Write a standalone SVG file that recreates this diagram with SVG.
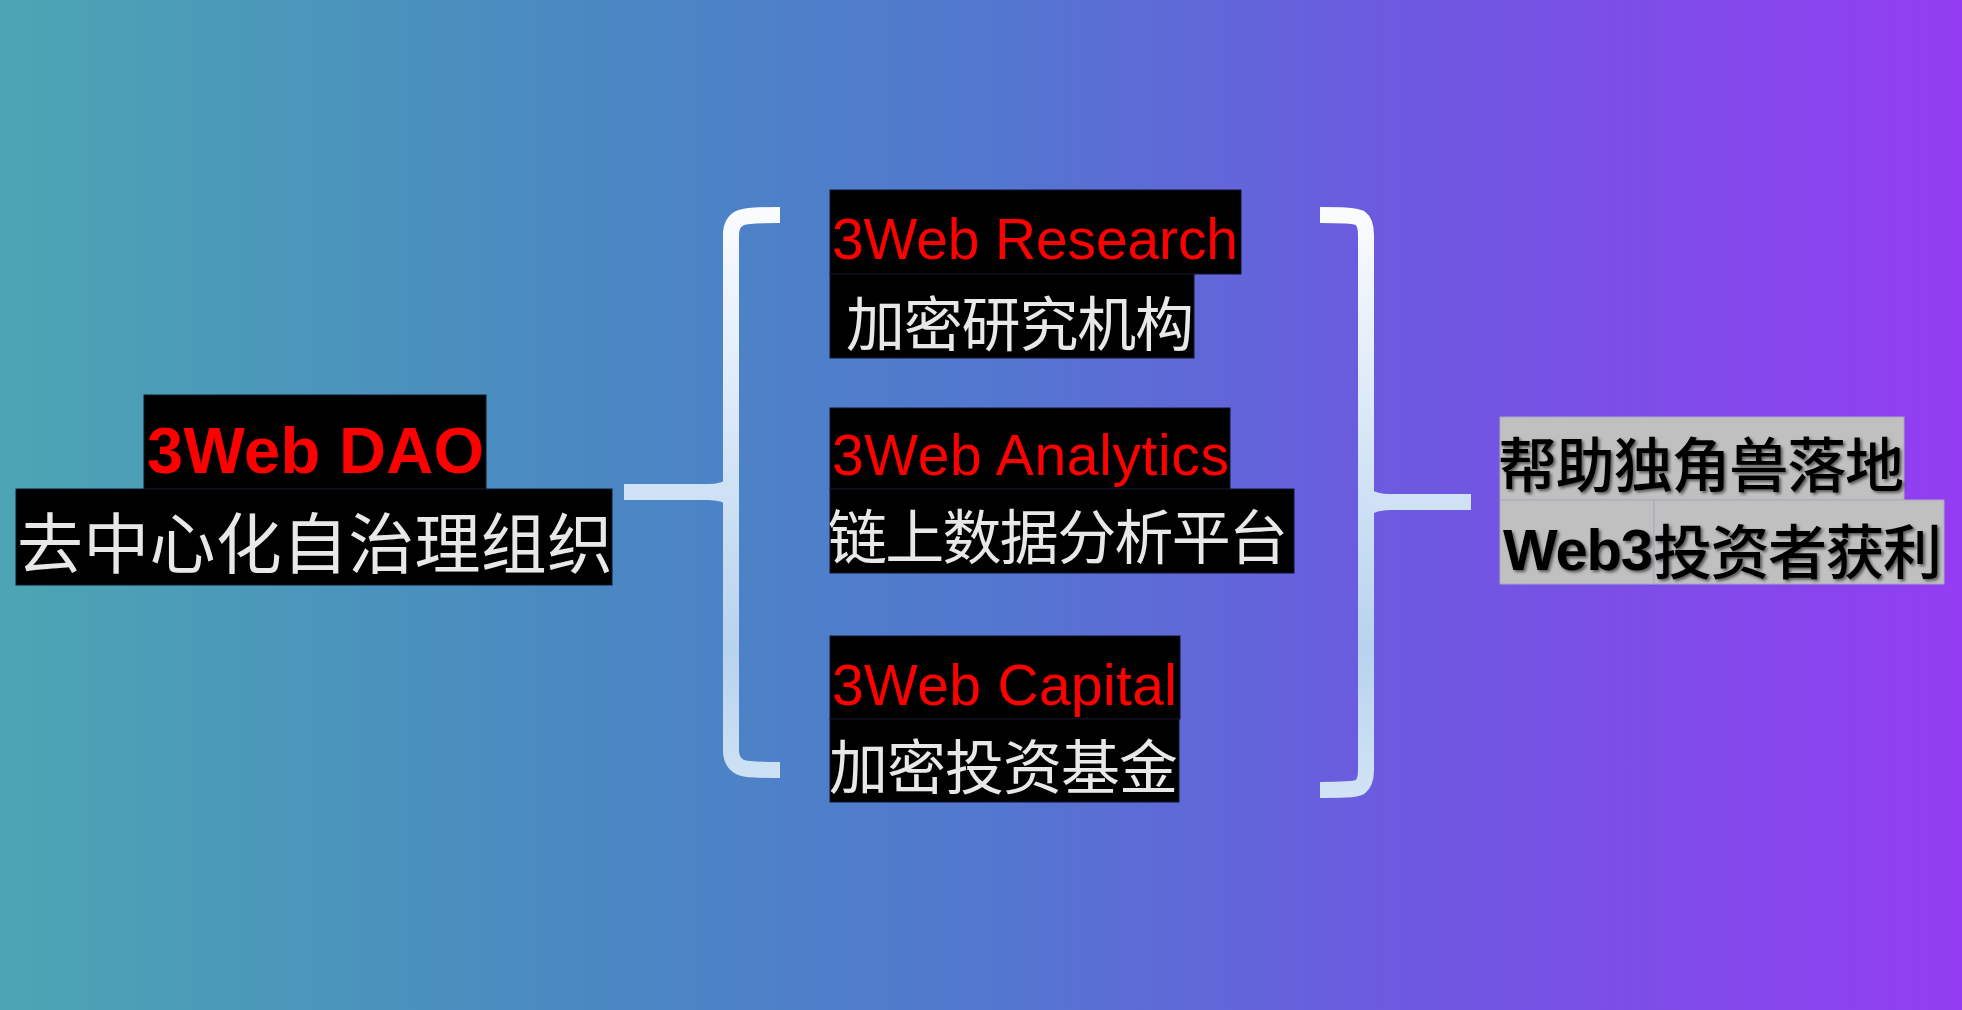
<svg xmlns="http://www.w3.org/2000/svg" width="1962" height="1010" viewBox="0 0 1962 1010">
<defs>
<linearGradient id="bg" x1="0" y1="0" x2="1" y2="0">
<stop offset="0" stop-color="#4ca5b3"/>
<stop offset="0.3" stop-color="#4a88c2"/>
<stop offset="0.5" stop-color="#5278cf"/>
<stop offset="0.7" stop-color="#6b5bdf"/>
<stop offset="1" stop-color="#933df2"/>
</linearGradient>
<linearGradient id="brace" gradientUnits="userSpaceOnUse" x1="0" y1="205" x2="0" y2="800">
<stop offset="0" stop-color="#fbfcff"/>
<stop offset="0.45" stop-color="#d2e3f5"/>
<stop offset="0.75" stop-color="#b8d3ee"/>
<stop offset="1" stop-color="#d2e4f5"/>
</linearGradient>
<filter id="shadow" x="-5%" y="-20%" width="110%" height="140%">
<feDropShadow dx="2" dy="2" stdDeviation="1.5" flood-color="#000" flood-opacity="0.55"/>
</filter>
</defs>
<style>
.blk{fill:#000;stroke:#14142a;stroke-width:1}
.gry{fill:#c0c0c0;stroke:#aaa7be;stroke-width:1}
.en{font-family:"Liberation Sans",Arial,sans-serif;fill:#ff0000}
.zh{font-family:"Noto Sans CJK SC","Noto Sans",sans-serif;fill:#e8e8e8}
.zhd{font-family:"Noto Sans CJK SC","Noto Sans",sans-serif;fill:#000;font-weight:500}
.br{fill:none;stroke:url(#brace);stroke-width:16}
.stem{fill:#cfe2f5}
</style>
<rect x="0" y="0" width="1962" height="1010" fill="url(#bg)"/>

<g id="connectors">
<path class="br" d="M780,215 C760,215 746,215 740,218 C734,221 731,227 731,235 V750 C731,758 734,764 740,767 C746,770 760,770 780,770"/>
<path class="stem" d="M624,484 H708 Q722,484 729,478 L729,506 Q722,500 708,500 H624 Z"/>
<path class="br" d="M1320,215 C1340,215 1354,215 1360,218 C1364,221 1366,227 1366,235 V770 C1366,778 1364,784 1360,787 C1354,790 1340,790 1320,790"/>
<path class="stem" d="M1471,494 H1390 Q1376,494 1369,488 L1369,516 Q1376,510 1390,510 H1471 Z"/>
</g>

<g id="node-dao">
<rect class="blk" x="144" y="395" width="342" height="94"/>
<rect class="blk" x="16" y="489" width="596" height="96"/>
<text class="en" x="147" y="473" font-size="65" font-weight="bold" textLength="337">3Web DAO</text>
<text class="zh" x="17" y="568" font-size="66" textLength="596">去中心化自治理组织</text>
</g>

<g id="node-research">
<rect class="blk" x="830" y="190" width="411" height="84"/>
<rect class="blk" x="830" y="274" width="364" height="84"/>
<text class="en" x="832" y="259" font-size="57" textLength="406">3Web Research</text>
<text class="zh" x="846" y="346" font-size="59" textLength="348">加密研究机构</text>
</g>

<g id="node-analytics">
<rect class="blk" x="830" y="408" width="400" height="81"/>
<rect class="blk" x="830" y="489" width="464" height="84"/>
<text class="en" x="832" y="475" font-size="57" textLength="397">3Web Analytics</text>
<text class="zh" x="828" y="559" font-size="59" textLength="460">链上数据分析平台</text>
</g>

<g id="node-capital">
<rect class="blk" x="830" y="636" width="350" height="83"/>
<rect class="blk" x="830" y="719" width="349" height="83"/>
<text class="en" x="832" y="705" font-size="57" textLength="345">3Web Capital</text>
<text class="zh" x="829" y="789" font-size="59" textLength="349">加密投资基金</text>
</g>

<g id="node-result">
<rect class="gry" x="1500" y="417" width="404" height="83"/>
<rect class="gry" x="1500" y="500" width="154" height="84"/>
<rect class="gry" x="1654" y="500" width="290" height="84"/>
<g filter="url(#shadow)">
<text class="zhd" x="1498" y="487" font-size="59" textLength="406">帮助独角兽落地</text>
<text x="1503" y="570" font-size="58" font-weight="bold" font-family="'Liberation Sans',Arial,sans-serif" fill="#000" textLength="150">Web3</text>
<text class="zhd" x="1653" y="574" font-size="59" textLength="289">投资者获利</text>
</g>
</g>
</svg>
